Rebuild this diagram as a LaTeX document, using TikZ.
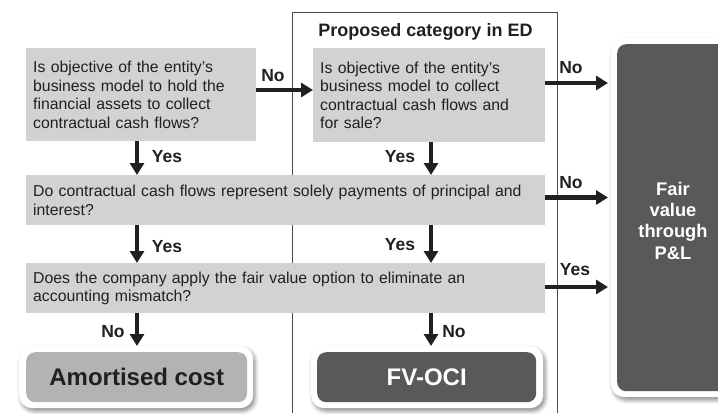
\documentclass[tikz,border=0pt]{standalone}
\usepackage{fontspec}
\setmainfont{Liberation Sans}
\usetikzlibrary{arrows.meta,shadows.blur}
\definecolor{qgray}{HTML}{D1D2D3}
\definecolor{amgray}{HTML}{B2B3B5}
\definecolor{dkgray}{HTML}{58595B}
\definecolor{txt}{HTML}{231F20}
\definecolor{framec}{HTML}{4A4A4A}
\begin{document}
\begin{tikzpicture}[x=1bp,y=-1bp,
 qbox/.style={fill=qgray, text=txt, anchor=north west, inner xsep=7bp, inner ysep=0pt, align=left, font=\fontsize{15.8bp}{18.5bp}\selectfont},
 arr/.style={draw=txt, line width=4.5bp, -{Triangle[length=12bp,width=14bp]}},
 lbl/.style={text=txt, font=\bfseries\fontsize{17.5bp}{20bp}\selectfont, inner sep=0pt},
 outerbox/.style={fill=white, rounded corners=13bp, blur shadow={shadow xshift=2bp, shadow yshift=-3bp, shadow blur radius=4bp, shadow opacity=45}, anchor=north west, inner sep=0pt},
 innerbox/.style={rounded corners=9bp, anchor=north west, inner sep=0pt, align=center},
 bigtext/.style={font=\bfseries\fontsize{24bp}{28bp}\selectfont},
]
\useasboundingbox (0,0) rectangle (718,413);
% frame of proposed category
\draw[framec, line width=0.9bp] (292.5,413) -- (292.5,12) -- (557.5,12) -- (557.5,413);
\node[text=txt, font=\bfseries\fontsize{18bp}{21bp}\selectfont, inner sep=0pt] (title) at (425.5,32) {Proposed category in ED};

% questions
\node[qbox, minimum width=230bp, minimum height=93bp, text width=216bp] (q1) at (26,48)
 {Is objective of the entity’s\\business model to hold the\\financial assets to collect\\contractual cash flows?};
\node[qbox, minimum width=232bp, minimum height=94bp, text width=218bp] (q2) at (313,48)
 {Is objective of the entity’s\\business model to collect\\contractual cash flows and\\for sale?};
\node[qbox, minimum width=519bp, minimum height=50bp, text width=505bp] (q3) at (26,175)
 {Do contractual cash flows represent solely payments of principal and\\interest?};
\node[qbox, minimum width=519bp, minimum height=50bp, text width=505bp] (q4) at (26,263)
 {Does the company apply the fair value option to eliminate an\\accounting mismatch?};

% results
\node[outerbox, minimum width=234bp, minimum height=62bp] (amo) at (19,346) {};
\node[innerbox, bigtext, fill=amgray, text=txt, minimum width=221bp, minimum height=50bp] (am) at (26,352) {Amortised cost};
\node[outerbox, minimum width=232bp, minimum height=62bp] (fvo) at (311,346) {};
\node[innerbox, bigtext, fill=dkgray, text=white, minimum width=219bp, minimum height=50bp] (fv) at (317,352) {FV-OCI};
\node[outerbox, minimum width=124bp, minimum height=359bp] (fpo) at (611,38) {};
\node[innerbox, fill=dkgray, minimum width=112bp, minimum height=347bp] (fp) at (617,44) {};
\node[text=white, align=center, inner sep=0pt, font=\bfseries\fontsize{18.3bp}{21.3bp}\selectfont] (fpt) at (673,220.5) {Fair\\value\\through\\P\&L};

% helper coordinates
\coordinate (cL) at (137,0);
\coordinate (cR) at (431,0);
\coordinate (tipx) at (608,0);
\coordinate (r0) at (0,90);
\coordinate (r1) at (0,83);
\coordinate (r2) at (0,197.5);
\coordinate (r3) at (0,287);

% arrows
\draw[arr] (q1.east |- r0) -- (q2.west |- r0);
\draw[arr] (q2.east |- r1) -- (tipx |- r1);
\draw[arr] (q3.east |- r2) -- (tipx |- r2);
\draw[arr] (q4.east |- r3) -- (tipx |- r3);
\draw[arr] (q1.south -| cL) -- (q3.north -| cL);
\draw[arr] (q2.south -| cR) -- (q3.north -| cR);
\draw[arr] (q3.south -| cL) -- (q4.north -| cL);
\draw[arr] (q3.south -| cR) -- (q4.north -| cR);
\draw[arr] (q4.south -| cL) -- (amo.north -| cL);
\draw[arr] (q4.south -| cR) -- (fvo.north -| cR);

% labels
\node[lbl] (l1) at (273,76) {No};
\node[lbl] (l2) at (571,68) {No};
\node[lbl] (l3) at (571,183) {No};
\node[lbl] (l4) at (575,270) {Yes};
\node[lbl] (l5) at (167,157) {Yes};
\node[lbl] (l6) at (167,247) {Yes};
\node[lbl] (l7) at (400,157) {Yes};
\node[lbl] (l8) at (400,245) {Yes};
\node[lbl] (l9) at (113,332) {No};
\node[lbl] (l10) at (454,332) {No};
\end{tikzpicture}
\end{document}
